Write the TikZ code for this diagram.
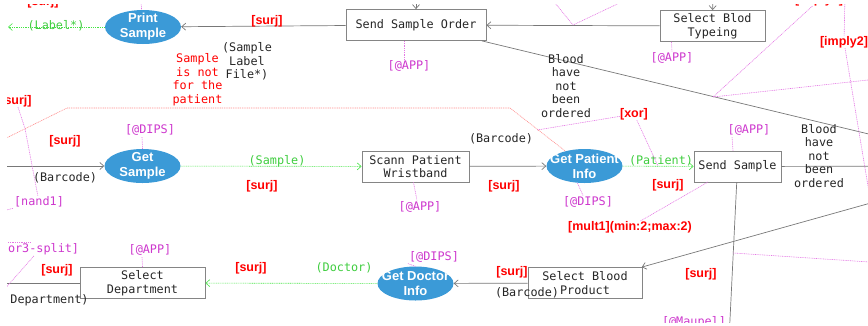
\documentclass[tikz,border=0pt]{standalone}
\usepackage{fontspec}
\setmainfont{Liberation Sans}
\setmonofont{DejaVu Sans Mono}
\usetikzlibrary{arrows.meta,shapes.geometric}

\definecolor{taskblue}{RGB}{59,154,215}
\definecolor{flowgray}{RGB}{120,120,120}
\definecolor{datagreen}{RGB}{70,228,70}
\definecolor{tagmag}{RGB}{205,55,205}
\definecolor{linemag}{RGB}{228,120,228}
\definecolor{notepink}{RGB}{255,140,140}

\newcommand{\flowfont}{\ttfamily\fontsize{11.8}{13.5}\selectfont}
\newcommand{\rulefont}{\bfseries\fontsize{12.5}{14}\selectfont}

\begin{document}
\begin{tikzpicture}
		[x=1pt,y=-1pt,
		task node/.style={draw=flowgray!90,fill=white,line width=.8pt,minimum height=31pt,inner sep=2pt,align=center,font=\flowfont,text=black!85},
		service node/.style={ellipse,fill=taskblue,text=white,minimum width=76pt,minimum height=34pt,inner xsep=-12pt,inner ysep=-3pt,align=center,font=\bfseries\fontsize{13}{15}\selectfont},
		flow/.style={draw=flowgray,line width=.7pt,-{Straight Barb[length=4pt,width=7pt]}},
		data/.style={draw=datagreen,line width=.6pt,dash pattern=on 1pt off .8pt,-{Straight Barb[length=4pt,width=7pt]}},
		note line/.style={draw=notepink,line width=.6pt,dash pattern=on 1pt off .8pt},
		rule line/.style={draw=linemag,line width=.6pt,dash pattern=on 1pt off .8pt},
		tag/.style={text=tagmag,font=\flowfont,inner sep=1pt},
		rule/.style={text=red,font=\rulefont,inner sep=0pt},
		msg/.style={font=\flowfont,inner sep=0pt,align=center,text=black!85},
		datamsg/.style={font=\flowfont,inner sep=0pt,text=datagreen!90!black}]
		\useasboundingbox (0,0) rectangle (868,325);
		\clip (7,4) rectangle (868,322);
		
		% tasks and services
		\node[service node] (ps) at (143,27) {Print\\Sample};
		\node[task node,minimum width=140pt] (sso) at (416,25) {Send Sample Order};
		\node[task node,minimum width=105pt] (sbt) at (712.5,26) {Select Blod\\Typeing};
		\node[service node] (gs) at (142.5,166) {Get\\Sample};
		\node[task node,minimum width=107pt] (spw) at (415.5,166.5) {Scann Patient\\Wristband};
		\node[service node] (gpi) at (584.5,166) {Get Patient\\Info};
		\node[task node,minimum width=87pt] (ss) at (737.5,166.5) {Send Sample};
		\node[task node,minimum width=125pt] (sd) at (142.5,283) {Select\\Department};
		\node[service node] (gdi) at (415.5,283.5) {Get Doctor\\Info};
		\node[task node,minimum width=114pt] (sbp) at (585,283) {Select Blood\\Product};
		
		% loose ends
		\coordinate (up1) at (416,-30);
		\coordinate (up2) at (713,-30);
		\coordinate (out1) at (8,27);
		\coordinate (in1) at (-20,166);
		\coordinate (out2) at (-20,283);
		\coordinate (r1) at (960,156);
		\coordinate (r2) at (960,166);
		\coordinate (r3) at (960,178);
		\coordinate (dn) at (728,360);
		\coordinate (p0) at (-20,151);
		\coordinate (p1) at (67,108);
		\coordinate (p2) at (510,108);
		
		\draw[flow] (up1) to (sso);
		\draw[flow] (up2) to (sbt);
		\draw[flow] (sbt) to (sso);
		\draw[flow] (sso) to (ps);
		\draw[data] (ps) to (out1);
		\draw[flow] (sso) to (r1);
		\draw[flow] (ss) to (r2);
		\draw[flow] (r3) to (sbp);
		\draw[flow,-] (ss) to (dn);
		\draw[flow] (in1) to (gs);
		\draw[data] (gs) to (spw);
		\draw[flow] (spw) to (gpi);
		\draw[data] (gpi) to (ss);
		\draw[flow] (sbp) to (gdi);
		\draw[data] (gdi) to (sd);
		\draw[flow,-] (sd) to (out2);
		\draw[note line] (p0) -- (p1) -- (p2) -- (gpi);
		
		% flow labels
		\node[datamsg] (l1) at (56,26) {(Label*)};
		\node[msg] (l2) at (247,61.5) {(Sample\\Label\\File*)};
		\node[msg,text=red] (l3) at (197.5,79.5) {Sample\\is not\\for the\\patient};
		\node[msg] (l4) at (566,86) {Blood\\have\\not\\been\\ordered};
		\node[msg] (l5) at (819,156) {Blood\\have\\not\\been\\ordered};
		\node[msg] (l6) at (65,178) {(Barcode)};
		\node[datamsg] (l7) at (277,161) {(Sample)};
		\node[msg] (l8) at (501,139) {(Barcode)};
		\node[datamsg] (l9) at (661,161) {(Patient)};
		\node[msg] (l10) at (527,293) {(Barcode)};
		\node[datamsg] (l11) at (344,268) {(Doctor)};
		\node[msg] (l12) at (49.5,300) {Department)};
		
		% system tags
		\node[tag] (t1) at (409,66) {[@APP]};
		\node[tag] (t2) at (672,58) {[@APP]};
		\node[tag] (t3) at (150,130) {[@DIPS]};
		\node[tag] (t4) at (420,207) {[@APP]};
		\node[tag] (t5) at (588,202) {[@DIPS]};
		\node[tag] (t6) at (749,130) {[@APP]};
		\node[tag] (t7) at (150,250) {[@APP]};
		\node[tag] (t8) at (434,257) {[@DIPS]};
		\node[tag] (t9) at (694,322) {[@Maupel]};
		\node[tag] (nand1) at (39,202) {[nand1]};
		\node[tag] (or3) at (40,249) {[or3-split]};
		
		\draw[rule line] ([xshift=-12pt]sso.south) -- ([xshift=-5pt]t1.north);
		\draw[rule line] ([xshift=-41pt]sbt.south) -- (t2.north);
		\draw[rule line] (gs.north) -- ([xshift=-8pt]t3.south);
		\draw[rule line] ([xshift=-2pt]spw.south) -- ([xshift=-3pt]t4.north);
		\draw[rule line] ([xshift=-7pt]gpi.south) -- ([xshift=-5pt]t5.north);
		\draw[rule line] ([xshift=-4.5pt]ss.north) -- ([xshift=-17pt]t6.south);
		\draw[rule line] (sd.north) -- ([xshift=-8pt]t7.south);
		\draw[rule line] (gdi.north) -- (t8.south west);
		
		% rules
		\node[rule] (s1) at (267,21) {[surj]};
		\node[rule] (s2) at (65,141) {[surj]};
		\node[rule] (s3) at (262,186) {[surj]};
		\node[rule] (s4) at (504,186) {[surj]};
		\node[rule] (s5) at (668,185) {[surj]};
		\node[rule] (s6) at (701,274) {[surj]};
		\node[rule] (s7) at (512,272) {[surj]};
		\node[rule] (s8) at (251,268) {[surj]};
		\node[rule] (s9) at (57,270) {[surj]};
		\node[rule] (s10) at (43,2) {[surj]};
		\node[rule] (s11) at (16,101) {[surj]};
		\node[rule] (xor) at (634,114) {[xor]};
		\node[rule] (mult1) at (630,227) {[mult1](min:2;max:2)};
		\node[rule] (imply1) at (819,0) {[imply1]};
		\node[rule] (imply2) at (844,42) {[imply2]};
		
		\coordinate (xa) at (537,130);
		\coordinate (xb) at (658,166);
		\coordinate (ma) at (708,182);
		\coordinate (na) at (25,128.5);
		\coordinate (nb) at (-10,214);
		\coordinate (oa) at (-5,300);
		\coordinate (oc) at (-10,242);
		\coordinate (od) at (31,242);
		\coordinate (va) at (573,25);
		\coordinate (vb) at (551,-2);
		\coordinate (vc) at (630,-2);
		\coordinate (ia) at (713,97);
		\coordinate (ib) at (900,76.5);
		\coordinate (ic) at (845,-5);
		\coordinate (id) at (872,210);
		\coordinate (da) at (733.3,253);
		\coordinate (db) at (900,264);
		\coordinate (pa) at (140,-10);
		
		\draw[rule line] (xor) -- (xa);
		\draw[rule line] (xor) -- (xb);
		\draw[rule line] (mult1) -- (ma);
		\draw[rule line] (nand1) -- (na) -- (s11);
		\draw[rule line] (nand1) -- (nb);
		\draw[rule line] (or3) -- (oa);
		\draw[rule line] (oc) -- (od);
		\draw[rule line] (vb) -- (va) -- (vc);
		\draw[rule line] (imply1) -- (ia) -- (ib);
		\draw[rule line] (ic) -- (imply2) -- (id);
		\draw[rule line] (da) -- (db);
		\draw[rule line] (pa) -- (ps);
\end{tikzpicture}
\end{document}
